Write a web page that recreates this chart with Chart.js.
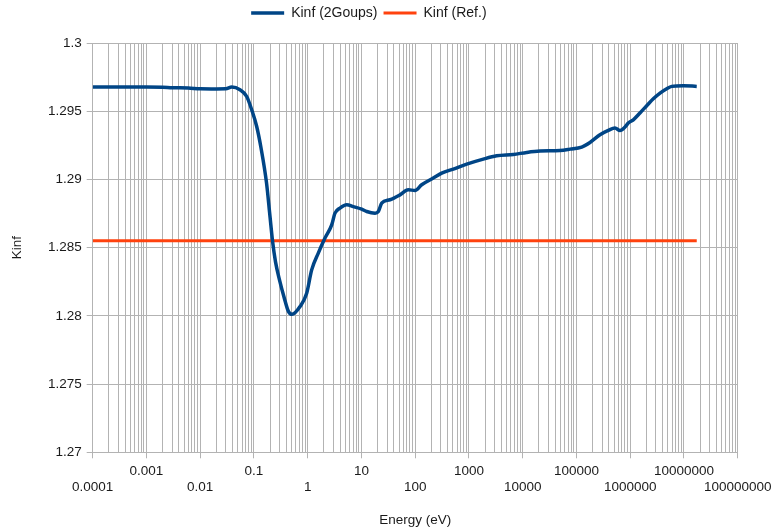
<!DOCTYPE html>
<html>
<head>
<meta charset="utf-8">
<script src="https://cdn.jsdelivr.net/npm/chart.js@4/dist/chart.umd.min.js"></script>
<style>
  html, body { margin: 0; padding: 0; background: #ffffff; }
  #wrap { width: 772px; height: 531px; }
</style>
</head>
<body>
<div id="wrap"><canvas id="kinfChart" width="772" height="531"></canvas></div>
<script>
// Energy cut-off (eV) and the resulting two-group Kinf
const energyEv = [
  0.0001, 0.0003, 0.001, 0.002, 0.003, 0.006, 0.01, 0.02, 0.03, 0.0386,
  0.0549, 0.0733, 0.0908, 0.1125, 0.1352, 0.1713, 0.1989, 0.2214, 0.2518, 0.2985,
  0.3622, 0.4397, 0.5105, 0.7194, 0.9575, 1.186, 1.575, 2.098, 2.797, 3.22,
  3.99, 5.32, 7.05, 10.1, 12.5, 17.9, 20.6, 23.8, 34.0, 52.1,
  74.5, 99.1, 132, 217, 311, 512, 908, 1849, 3281, 6683,
  11860, 20990, 49430, 75860, 125300, 178700, 274200, 391700, 521400, 645700,
  800000, 922000, 1143000, 1520000, 2030000, 2690000, 3590000, 4780000, 5920000, 9720000,
  17300000
];
const kinf2Groups = [
  1.29677, 1.29677, 1.29677, 1.29676, 1.29672, 1.29670, 1.29664, 1.29663, 1.29664, 1.29677,
  1.29657, 1.29608, 1.29511, 1.29388, 1.29232, 1.28975, 1.28728, 1.28550, 1.28396, 1.28264,
  1.28139, 1.28031, 1.28011, 1.28068, 1.28166, 1.28337, 1.28460, 1.28570, 1.28667, 1.28753,
  1.28790, 1.28814, 1.28801, 1.28782, 1.28765, 1.28753, 1.28765, 1.28826, 1.28851, 1.28887,
  1.28924, 1.28919, 1.28961, 1.29010, 1.29046, 1.29076, 1.29112, 1.29149, 1.29173, 1.29183,
  1.29198, 1.29208, 1.29212, 1.29222, 1.29237, 1.29271, 1.29327, 1.29359, 1.29377, 1.29359,
  1.29384, 1.29413, 1.29437, 1.29487, 1.29540, 1.29591, 1.29633, 1.29665, 1.29682, 1.29687,
  1.29682
];

// Reference Kinf, constant over the whole energy range
const refEnergyEv = [0.0001, 17300000];
const kinfRef = [1.2855, 1.2855];

// Axis ticks
const energyDecades = [0.0001, 0.001, 0.01, 0.1, 1, 10, 100, 1000, 10000, 100000, 1000000, 10000000, 100000000];
const energyTickLabels = ['0.0001', '0.001', '0.01', '0.1', '1', '10', '100', '1000', '10000', '100000', '1000000', '10000000', '100000000'];
const kinfTicks = [1.27, 1.275, 1.28, 1.285, 1.29, 1.295, 1.3];
const kinfTickLabels = ['1.27', '1.275', '1.28', '1.285', '1.29', '1.295', '1.3'];

const BLUE = '#004586';
const RED = '#ff420e';
const GRID = '#b3b3b3';
const TEXT = '#1a1a1a';
const FONT = 'Liberation Sans, Arial, sans-serif';

// decade lines plus the 2..9 lines in between
const energyGrid = [];
energyDecades.forEach((d, i) => {
  energyGrid.push({ value: d, major: true, label: energyTickLabels[i], row: i % 2 });
  if (i < energyDecades.length - 1) {
    for (let k = 2; k <= 9; k++) energyGrid.push({ value: k * d, major: false, label: '' });
  }
});

// extra room between the legend and the plot
const legendGap = {
  id: 'legendGap',
  beforeInit(chart) {
    const fit = chart.legend.fit;
    chart.legend.fit = function () {
      fit.call(this);
      this.height += 13;
    };
  }
};

new Chart(document.getElementById('kinfChart'), {
  type: 'line',
  data: {
    datasets: [
      {
        label: 'Kinf (2Goups)',
        data: energyEv.map((e, i) => ({ x: e, y: kinf2Groups[i] })),
        borderColor: BLUE,
        backgroundColor: BLUE,
        borderWidth: 3.5,
        pointRadius: 0,
        cubicInterpolationMode: 'monotone',
        order: 1
      },
      {
        label: 'Kinf (Ref.)',
        data: refEnergyEv.map((e, i) => ({ x: e, y: kinfRef[i] })),
        borderColor: RED,
        backgroundColor: RED,
        borderWidth: 3,
        pointRadius: 0,
        order: 2
      }
    ]
  },
  options: {
    responsive: false,
    animation: false,
    devicePixelRatio: 1,
    layout: { padding: { left: 0, right: 34.3, top: 0, bottom: 0 } },
    plugins: {
      legend: {
        position: 'top',
        align: 'center',
        labels: {
          boxWidth: 33,
          boxHeight: 0,
          padding: 6,
          color: TEXT,
          font: { family: FONT, size: 14 }
        }
      },
      tooltip: { enabled: false }
    },
    scales: {
      x: {
        type: 'logarithmic',
        min: 0.0001,
        max: 100000000,
        afterBuildTicks(scale) {
          scale.ticks = energyGrid.map(t => ({ value: t.value, major: t.major }));
        },
        afterFit(scale) {
          scale.height = 78.7;
          scale.paddingLeft = 0;
          scale.paddingRight = 0;
        },
        ticks: {
          autoSkip: false,
          maxRotation: 0,
          minRotation: 0,
          padding: 5,
          color: TEXT,
          font: { family: FONT, size: 13.5 },
          callback(value, index) {
            const t = energyGrid[index];
            if (!t || !t.major) return '';
            return t.row === 0 ? ['', t.label] : [t.label];
          }
        },
        grid: {
          color: GRID,
          lineWidth: 1,
          tickLength: 6,
          tickColor: ctx => (ctx.tick && ctx.tick.major ? GRID : 'rgba(0,0,0,0)')
        },
        border: { color: GRID },
        title: {
          display: true,
          text: 'Energy (eV)',
          color: TEXT,
          font: { family: FONT, size: 13.5 },
          padding: { top: 0, bottom: 3 }
        }
      },
      y: {
        type: 'linear',
        min: 1.27,
        max: 1.3,
        afterBuildTicks(scale) {
          scale.ticks = kinfTicks.map(v => ({ value: v }));
        },
        afterFit(scale) {
          scale.width = 92.7;
        },
        ticks: {
          padding: 5,
          color: TEXT,
          font: { family: FONT, size: 13.5 },
          callback(value, index) {
            return kinfTickLabels[index];
          }
        },
        grid: {
          color: GRID,
          lineWidth: 1,
          tickLength: 6,
          tickColor: GRID
        },
        border: { color: GRID },
        title: {
          display: true,
          text: 'Kinf',
          color: TEXT,
          font: { family: FONT, size: 13.5 },
          padding: { top: 9, bottom: 0 }
        }
      }
    }
  },
  plugins: [legendGap]
});
</script>
</body>
</html>
